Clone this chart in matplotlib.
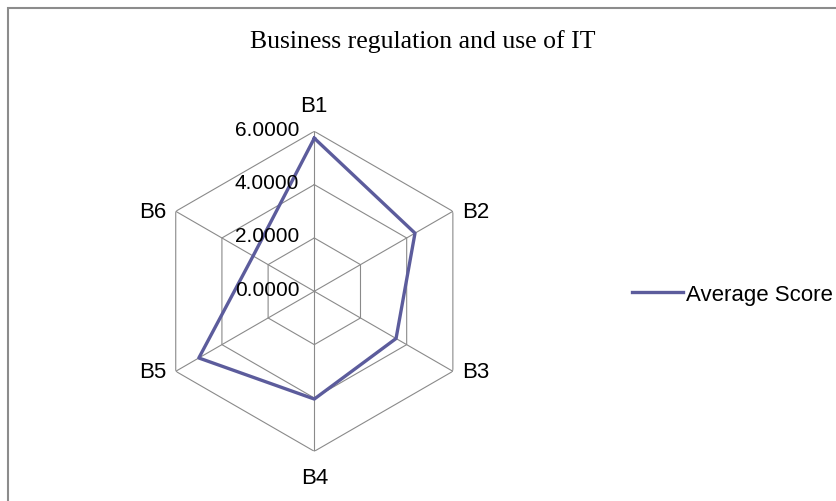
import numpy as np
import matplotlib.pyplot as plt
from matplotlib.patches import Rectangle

categories = ['B1', 'B2', 'B3', 'B4', 'B5', 'B6']
average_score = [5.74, 4.36, 3.54, 4.04, 5.0, 2.65]
rings = [2, 4, 6]
tick_values = [0, 2, 4, 6]
tick_labels = ['0.0000', '2.0000', '4.0000', '6.0000']

W, H = 836, 502
fig = plt.figure(figsize=(W / 100, H / 100), dpi=100)
fig.patch.set_facecolor('white')

# outer chart border (only top and left visible)
fig.add_artist(Rectangle((7.5 / W, -0.1), 1.2, 1.1 - 8.5 / H, transform=fig.transFigure,
                         fill=False, edgecolor='#8c8c8c', lw=1.5))

cx, cy, R = 314.3, 292.3, 160
ax = fig.add_axes([(cx - R) / W, (H - cy - R) / H, 2 * R / W, 2 * R / H], projection='polar')
ax.set_theta_zero_location('N')
ax.set_theta_direction(-1)
ax.set_ylim(0, 6)
ax.axis('off')

theta = np.linspace(0, 2 * np.pi, len(categories), endpoint=False)
closed = np.append(theta, theta[0])

grid_color = '#8a8a8a'
for r in rings:
    ax.plot(closed, [r] * len(closed), color=grid_color, lw=0.8)
for t in theta:
    ax.plot([t, t], [0, 6], color=grid_color, lw=0.8)

line_color = '#5c5c9c'
vals = average_score + average_score[:1]
ax.plot(closed, vals, color=line_color, lw=2.4, label='Average Score', clip_on=False)

sans = 'Liberation Sans'
fs = 16

offsets = [(0, 26), (23, 0), (23, 0), (0, -26), (-23, 0), (-23, 0)]
for t, lab, (dx, dy) in zip(theta, categories, offsets):
    ax.annotate(lab, xy=(t, 6), xytext=(dx, dy), textcoords='offset pixels',
                ha='center', va='center', fontsize=fs, family=sans, annotation_clip=False)

for v, lab in zip(tick_values, tick_labels):
    ax.annotate(lab, xy=(0, v), xytext=(-15, 2), textcoords='offset pixels',
                ha='right', va='center', fontsize=15, family=sans, annotation_clip=False)

fig.text(423 / W, 1 - 42 / H, 'Business regulation and use of IT', ha='center', va='center',
         fontsize=18.5, family='Liberation Serif')

fig.legend(loc='center left', bbox_to_anchor=(632 / W, 1 - 295 / H), frameon=False,
           prop={'family': sans, 'size': fs}, handlelength=2.3, handletextpad=0.15,
           borderpad=0, borderaxespad=0)

fig.savefig('out.png', dpi=100)
